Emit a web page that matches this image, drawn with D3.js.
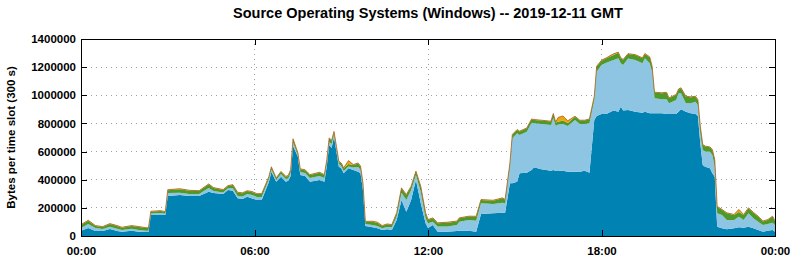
<!DOCTYPE html>
<html>
<head>
<meta charset="utf-8">
<script src="https://cdn.jsdelivr.net/npm/d3@7"></script>
<style>
  body { margin: 0; background: #fff; }
  svg text { font-family: "Liberation Sans", Arial, sans-serif; font-weight: bold; }
</style>
</head>
<body>
<div class="chart"></div>
<script>
// 5-minute time slots, values in thousands of bytes
var times = [
  "00:00","00:15","00:30","00:45","01:00","01:15","01:25","01:45","02:00","02:15",
  "02:20","02:25","02:45","02:55","03:00","03:25","03:45","04:05","04:25","04:35",
  "04:55","05:05","05:15","05:25","05:35","05:45","05:55","06:05","06:15","06:30",
  "06:35","06:45","06:55","07:05","07:10","07:15","07:20","07:30","07:35","07:45",
  "07:55","08:15","08:25","08:30","08:35","08:40","08:45","08:50","08:55","09:00",
  "09:05","09:15","09:25","09:35","09:40","09:45","09:50","10:05","10:15","10:25",
  "10:35","10:45","10:55","11:05","11:15","11:25","11:35","11:45","11:55","12:00",
  "12:10","12:20","12:40","13:00","13:05","13:25","13:40","13:50","14:15","14:35",
  "14:40","14:50","14:55","15:05","15:10","15:25","15:35","15:40","15:55","16:15",
  "16:20","16:25","16:30","16:40","16:50","17:05","17:15","17:25","17:35","17:45",
  "17:50","18:00","18:10","18:25","18:35","18:40","18:45","18:55","19:10","19:25",
  "19:30","19:40","19:45","19:50","20:05","20:15","20:20","20:35","20:40","20:45",
  "20:55","21:05","21:15","21:20","21:25","21:30","21:35","21:45","21:50","21:55",
  "22:00","22:10","22:20","22:35","22:45","22:55","23:05","23:15","23:25","23:35",
  "23:45","23:55","24:00"
];

var darkBlueK = [
  38,57,36,36,50,36,31,38,31,28,
  28,149,149,149,284,291,284,284,315,306,
  298,327,322,268,263,279,267,256,256,386,
  457,386,421,386,393,426,640,564,434,426,
  386,398,386,497,647,625,706,599,493,481,
  446,481,469,457,446,327,71,62,55,43,
  48,43,114,256,173,256,398,232,90,57,
  78,31,31,36,38,38,31,156,161,166,
  166,375,375,386,446,450,469,488,474,464,
  469,462,462,464,457,457,457,464,450,824,
  853,867,867,891,883,919,891,895,883,876,
  883,872,872,872,872,867,867,867,883,900,
  883,872,867,853,659,505,493,481,446,421,
  66,55,48,55,62,59,66,55,43,31,
  38,43,31
];

var lightBlueK = [
  19,28,21,14,16,16,12,14,12,9,
  9,11,14,11,21,16,14,14,26,14,
  11,12,19,16,18,19,25,21,21,19,
  16,12,19,19,16,21,24,12,21,21,
  26,28,26,21,21,28,16,19,19,16,
  16,13,18,33,24,25,14,16,16,12,
  16,19,24,52,83,71,36,82,36,33,
  24,36,36,43,64,76,78,76,66,71,
  65,118,320,344,272,291,336,313,322,325,
  370,320,330,332,325,367,339,332,351,142,
  315,348,365,360,380,308,325,367,367,351,
  380,355,296,107,100,104,76,100,131,114,
  60,71,87,78,71,107,107,118,130,71,
  95,95,66,59,75,55,95,71,59,48,
  48,52,48
];

var greenK = [
  21,24,14,14,19,19,16,19,21,19,
  19,13,14,11,21,26,24,21,26,21,
  18,16,21,24,23,21,21,21,21,16,
  16,12,16,16,18,21,24,12,19,21,
  21,24,21,21,26,24,13,16,16,19,
  19,18,18,26,24,23,16,24,24,16,
  19,16,24,31,36,24,24,36,36,24,
  24,24,28,24,24,24,28,24,24,31,
  25,24,24,24,24,24,24,24,24,24,
  28,24,20,24,21,24,24,24,28,24,
  36,31,31,36,40,36,36,31,36,36,
  31,43,36,40,43,47,36,36,28,36,
  47,43,36,36,47,36,36,31,36,48,
  47,36,48,36,33,36,36,40,36,24,
  28,43,24
];

var orangeK = [
  3,3,3,3,3,3,3,3,3,3,
  3,3,3,3,3,3,3,3,3,3,
  3,3,3,3,3,3,3,3,3,3,
  3,3,3,3,3,3,3,3,3,3,
  3,3,3,3,3,3,8,3,3,3,
  3,24,3,3,3,3,3,3,3,3,
  3,3,3,3,3,3,3,3,3,3,
  3,3,3,3,3,3,3,3,3,3,
  3,3,3,3,3,3,3,3,3,3,
  3,3,31,33,16,3,3,3,3,3,
  3,3,3,8,3,3,3,3,3,3,
  3,3,3,3,3,3,3,3,3,3,
  3,3,3,3,3,3,3,3,3,3,
  3,3,3,3,19,3,3,3,3,3,
  3,3,3
];

var seriesKeys = ["darkBlue", "lightBlue", "green", "orange"];
var seriesColors = ["#0082b3", "#8dc5e3", "#4c9a2a", "#f0a30a"];

var yTicks = [0, 200000, 400000, 600000, 800000, 1000000, 1200000, 1400000];
var xTicks = [0, 360, 720, 1080, 1440];
var xTickLabels = ["00:00", "06:00", "12:00", "18:00", "00:00"];

var Chart = (function() {
  var margin = { top: 39, right: 20, bottom: 24, left: 81 }, width = 694, height = 197;

  function toMinutes(s) {
    var p = s.split(":");
    return +p[0] * 60 + +p[1];
  }

  function draw() {
    var rows = times.map(function(t, i) {
      return {
        t: toMinutes(t),
        darkBlue: darkBlueK[i] * 1000,
        lightBlue: lightBlueK[i] * 1000,
        green: greenK[i] * 1000,
        orange: orangeK[i] * 1000
      };
    });

    var svg = d3.select(".chart").append("svg")
      .attr("width", 795)
      .attr("height", 260);

    svg.append("text")
      .attr("x", margin.left + width / 2)
      .attr("y", 18)
      .attr("text-anchor", "middle")
      .attr("font-size", "14.5px")
      .text("Source Operating Systems (Windows) -- 2019-12-11 GMT");

    svg.append("text")
      .attr("transform", "translate(15," + (margin.top + height / 2) + ") rotate(-90)")
      .attr("text-anchor", "middle")
      .attr("font-size", "11.5px")
      .text("Bytes per time slot (300 s)");

    var g = svg.append("g")
      .attr("transform", "translate(" + margin.left + "," + margin.top + ")");

    var x = d3.scaleLinear().domain([0, 1440]).range([0, width]);
    var y = d3.scaleLinear().domain([0, 1400000]).range([height, 0]);

    // dotted grid
    g.append("g").attr("class", "grid")
      .selectAll("line.h")
      .data(yTicks.slice(1, -1))
      .enter().append("line")
        .attr("x1", 0).attr("x2", width)
        .attr("y1", function(d) { return y(d); })
        .attr("y2", function(d) { return y(d); });
    g.select(".grid")
      .selectAll("line.v")
      .data(xTicks.slice(1, -1))
      .enter().append("line")
        .attr("y1", 0).attr("y2", height)
        .attr("x1", function(d) { return x(d); })
        .attr("x2", function(d) { return x(d); });
    g.selectAll(".grid line")
      .attr("stroke", "#a0a0a0")
      .attr("stroke-width", 1)
      .attr("stroke-dasharray", "1,4")
      .attr("shape-rendering", "crispEdges");

    var stack = d3.stack().keys(seriesKeys);
    var layers = stack(rows);

    var area = d3.area()
      .x(function(d) { return x(d.data.t); })
      .y0(function(d) { return y(d[0]); })
      .y1(function(d) { return y(d[1]); });

    g.append("g")
      .selectAll("path")
      .data(layers)
      .enter().append("path")
        .attr("fill", function(d, i) { return seriesColors[i]; })
        .attr("d", area);

    // thin brownish edge on top of the stack
    var topLine = d3.line()
      .x(function(d) { return x(d.data.t); })
      .y(function(d) { return y(d[1]); });
    g.append("path")
      .datum(layers[layers.length - 1])
      .attr("fill", "none")
      .attr("stroke", "#a8601c")
      .attr("stroke-width", 0.8)
      .attr("d", topLine);

    // axes with inward ticks
    var yAxis = d3.axisLeft(y).tickValues(yTicks).tickSize(-6).tickPadding(5)
      .tickFormat(d3.format("d"));
    var yAxisR = d3.axisRight(y).tickValues(yTicks).tickSize(-6).tickFormat("");
    var xAxis = d3.axisBottom(x).tickValues(xTicks).tickSize(-6).tickPadding(11)
      .tickFormat(function(d, i) { return xTickLabels[i]; });
    var xAxisT = d3.axisTop(x).tickValues(xTicks).tickSize(-6).tickFormat("");

    var axes = [
      g.append("g").call(yAxis),
      g.append("g").attr("transform", "translate(" + width + ",0)").call(yAxisR),
      g.append("g").attr("transform", "translate(0," + height + ")").call(xAxis),
      g.append("g").call(xAxisT)
    ];
    axes.forEach(function(a) {
      a.attr("font-family", null).attr("font-size", "11.5px");
      a.select(".domain").remove();
      a.selectAll(".tick line").attr("stroke", "#000").attr("shape-rendering", "crispEdges");
      a.selectAll("text").attr("fill", "#000");
    });

    g.append("rect")
      .attr("x", 0).attr("y", 0)
      .attr("width", width).attr("height", height)
      .attr("fill", "none")
      .attr("stroke", "#000")
      .attr("stroke-width", 1)
      .attr("shape-rendering", "crispEdges");
  }

  return { draw: draw };
})();

Chart.draw();
</script>
</body>
</html>
